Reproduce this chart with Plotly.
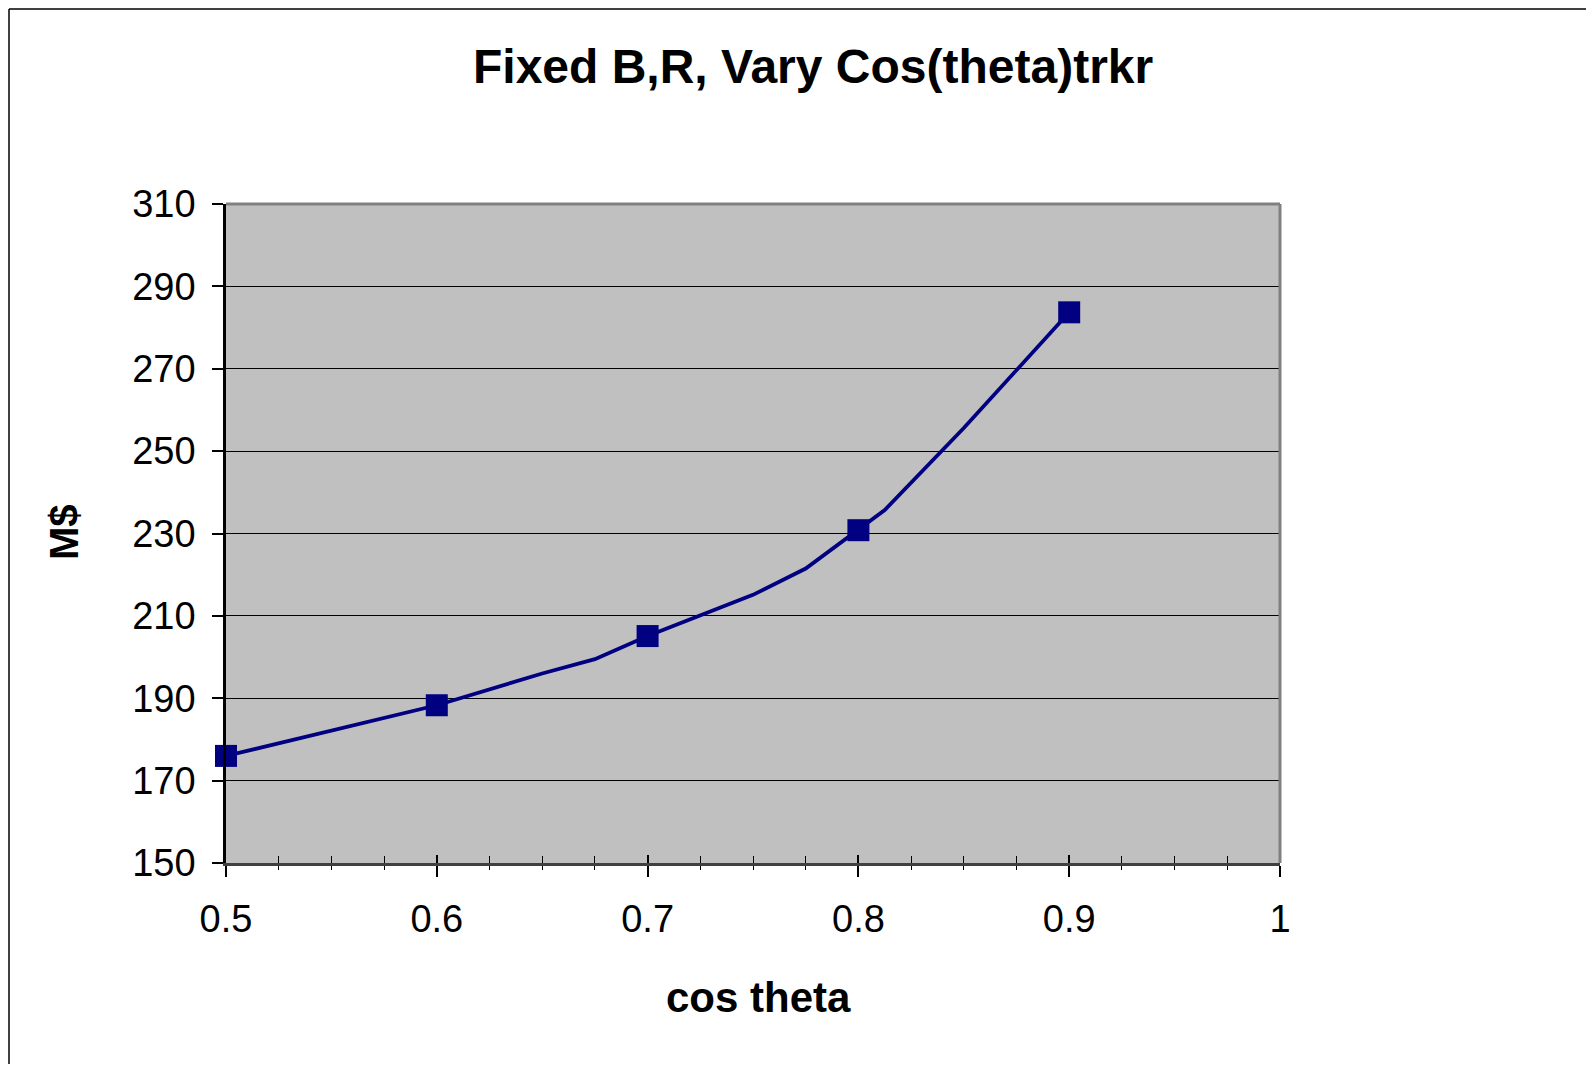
import plotly.graph_objects as go

# ---- data ----
marker_x = [0.5, 0.6, 0.7, 0.8, 0.9]
marker_y = [176.0, 188.3, 205.1, 230.8, 283.7]

line_x = [0.5, 0.6, 0.65, 0.675, 0.7, 0.75, 0.775, 0.8, 0.8125, 0.85, 0.875, 0.9]
line_y = [176.0, 188.3, 196.0, 199.5, 205.1, 215.1, 221.5, 230.8, 235.7, 255.6, 269.6, 283.7]

x_ticks = [0.5, 0.6, 0.7, 0.8, 0.9, 1.0]
x_ticktext = ["0.5", "0.6", "0.7", "0.8", "0.9", "1"]
y_ticks = [150, 170, 190, 210, 230, 250, 270, 290, 310]

title_text = "Fixed B,R, Vary Cos(theta)trkr"
x_title = "cos theta"
y_title = "M$"

# ---- layout geometry (page pixels; page body has an 8px margin) ----
OFF = 8
W, H = 1594 - 2 * OFF, 1072 - 2 * OFF
PL, PR, PT, PB = 226 - OFF, 1280 - OFF, 204 - OFF, 863 - OFF
FONT = "Liberation Sans, Arial, sans-serif"
NAVY = "#000080"


def xp(px):
    px -= OFF
    return (px - PL) / (PR - PL)


def yp(py):
    py -= OFF
    return (PB - py) / (PB - PT)


fig = go.Figure()
fig.add_trace(go.Scatter(
    x=line_x, y=line_y, mode="lines",
    line=dict(color=NAVY, width=3.8),
    cliponaxis=False, hoverinfo="skip", showlegend=False,
))
fig.add_trace(go.Scatter(
    x=marker_x, y=marker_y, mode="markers", xaxis="x2",
    marker=dict(symbol="square", size=22, color=NAVY,
                line=dict(color=NAVY, width=0)),
    cliponaxis=False, showlegend=False,
))

fig.update_layout(
    width=W, height=H,
    margin=dict(l=PL, r=W - PR, t=PT, b=H - PB, pad=0),
    paper_bgcolor="white",
    plot_bgcolor="#C0C0C0",
    showlegend=False,
    font=dict(family=FONT, color="black", size=38),
    xaxis=dict(
        range=[0.5, 1.0], tickvals=x_ticks, ticktext=x_ticktext,
        ticks="outside", ticklen=11, tickwidth=1.5, tickcolor="black",
        minor=dict(dtick=0.025, tick0=0.5, ticks="outside", ticklen=4,
                   tickwidth=1, tickcolor="black", showgrid=False),
        showgrid=False, zeroline=False,
        showline=True, linecolor="#404040", linewidth=2.5,
        tickfont=dict(size=38, family=FONT), ticklabelstandoff=10,
    ),
    xaxis2=dict(
        range=[0.5, 1.0], overlaying="x", anchor="y", side="bottom",
        tickvals=x_ticks, showticklabels=False,
        ticks="inside", ticklen=8, tickwidth=1.5, tickcolor="black",
        minor=dict(dtick=0.025, tick0=0.5, ticks="inside", ticklen=7,
                   tickwidth=1, tickcolor="black", showgrid=False),
        showgrid=False, zeroline=False, showline=False,
    ),
    yaxis=dict(
        range=[150, 310], tickvals=y_ticks,
        ticks="outside", ticklen=11, tickwidth=1.5, tickcolor="black",
        showgrid=True, gridcolor="black", gridwidth=1,
        zeroline=False,
        showline=True, linecolor="black", linewidth=2.5,
        tickfont=dict(size=38, family=FONT), ticklabelstandoff=9,
    ),
    shapes=[
        # plot area border (top and right, grey)
        dict(type="line", xref="paper", yref="paper", x0=0, x1=1, y0=1, y1=1,
             line=dict(color="#808080", width=3)),
        dict(type="line", xref="paper", yref="paper", x0=1, x1=1, y0=0, y1=1,
             line=dict(color="#808080", width=3)),
        # outer chart frame (left and top visible)
        dict(type="line", xref="paper", yref="paper",
             x0=xp(9), x1=xp(1600), y0=yp(9), y1=yp(9),
             line=dict(color="black", width=1.5)),
        dict(type="line", xref="paper", yref="paper",
             x0=xp(9), x1=xp(9), y0=yp(9), y1=yp(1080),
             line=dict(color="black", width=1.5)),
    ],
    annotations=[
        dict(text="<b>" + title_text + "</b>", xref="paper", yref="paper",
             x=xp(813), y=yp(66), xanchor="center", yanchor="middle",
             showarrow=False, font=dict(size=48, family=FONT)),
        dict(text="<b>" + x_title + "</b>", xref="paper", yref="paper",
             x=xp(758), y=yp(997), xanchor="center", yanchor="middle",
             showarrow=False, font=dict(size=42, family=FONT)),
        dict(text="<b>" + y_title + "</b>", xref="paper", yref="paper",
             x=xp(64), y=yp(532), xanchor="center", yanchor="middle",
             textangle=-90, showarrow=False, font=dict(size=40, family=FONT)),
    ],
)

fig.write_html("out.html")
